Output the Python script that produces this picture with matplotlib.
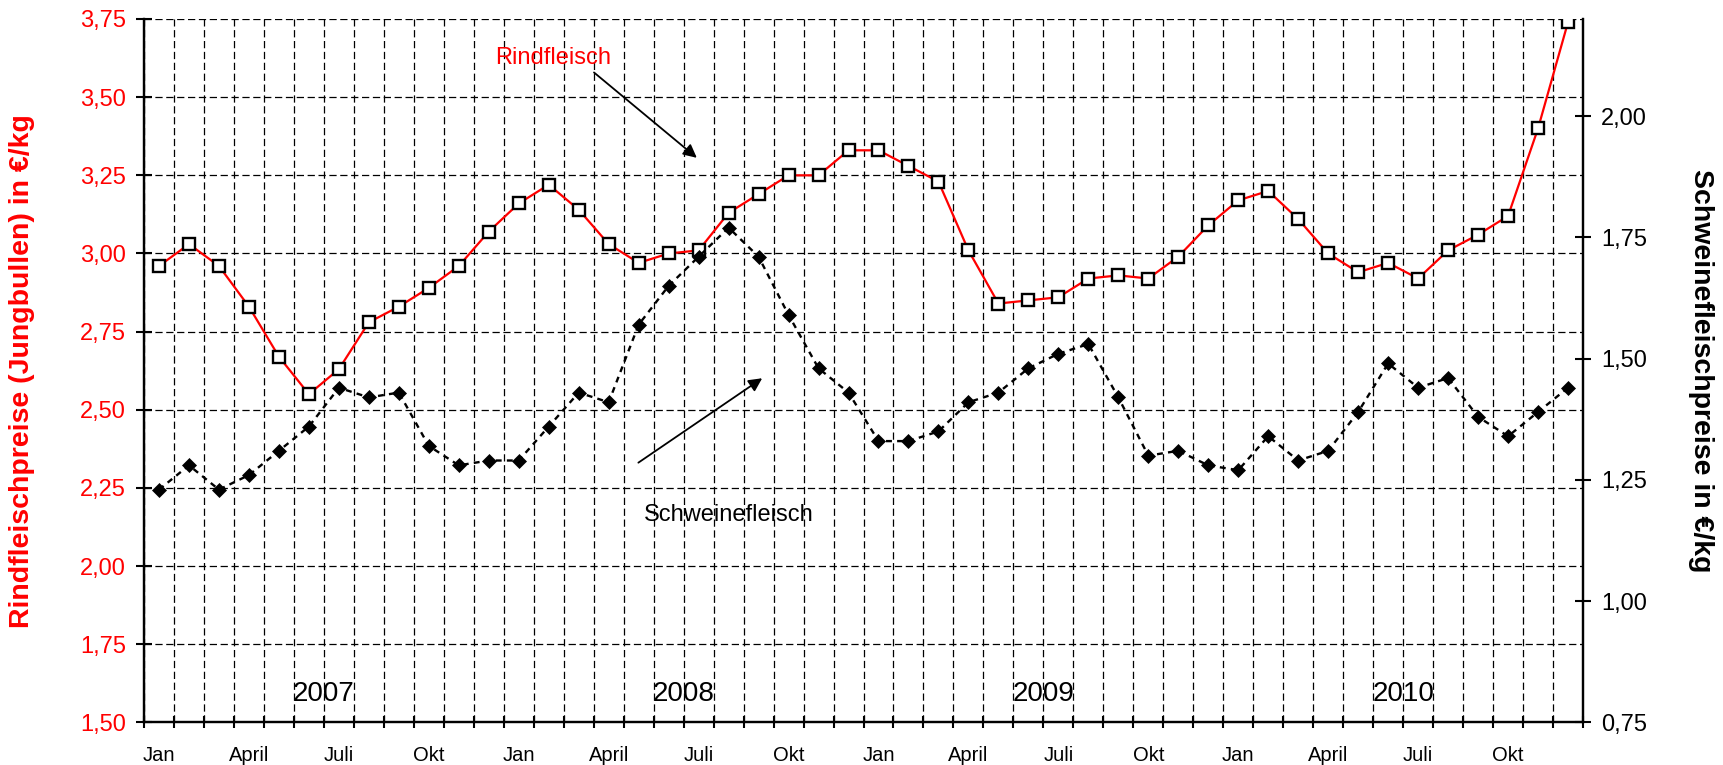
import numpy as np
import matplotlib.pyplot as plt
from matplotlib.ticker import FixedLocator, FuncFormatter

plt.rcParams['font.family'] = ['Liberation Sans', 'DejaVu Sans']

# Monatswerte Jan 2007 - Dez 2010
jahre = ['2007', '2008', '2009', '2010']
monate = ['Jan', 'April', 'Juli', 'Okt']

rind = [2.96, 3.03, 2.96, 2.83, 2.67, 2.55, 2.63, 2.78, 2.83, 2.89, 2.96, 3.07,
        3.16, 3.22, 3.14, 3.03, 2.97, 3.00, 3.01, 3.13, 3.19, 3.25, 3.25, 3.33,
        3.33, 3.28, 3.23, 3.01, 2.84, 2.85, 2.86, 2.92, 2.93, 2.92, 2.99, 3.09,
        3.17, 3.20, 3.11, 3.00, 2.94, 2.97, 2.92, 3.01, 3.06, 3.12, 3.40, 3.74]

schwein = [1.23, 1.28, 1.23, 1.26, 1.31, 1.36, 1.44, 1.42, 1.43, 1.32, 1.28, 1.29,
           1.29, 1.36, 1.43, 1.41, 1.57, 1.65, 1.71, 1.77, 1.71, 1.59, 1.48, 1.43,
           1.33, 1.33, 1.35, 1.41, 1.43, 1.48, 1.51, 1.53, 1.42, 1.30, 1.31, 1.28,
           1.27, 1.34, 1.29, 1.31, 1.39, 1.49, 1.44, 1.46, 1.38, 1.34, 1.39, 1.44]

x = np.arange(len(rind))
komma = FuncFormatter(lambda v, p: f'{v:.2f}'.replace('.', ','))

fig = plt.figure(figsize=(17.24, 7.65), dpi=100)
ax = fig.add_axes([0.08353, 0.05556, 0.83469, 0.91961])
ax2 = ax.twinx()

# grid
gls = (0, (5.8, 2.9))
ax.set_xlim(-0.5, len(x) - 0.5)
ax.set_ylim(1.5, 3.75)
ax.xaxis.set_major_locator(FixedLocator(np.arange(-0.5, len(x), 1)))
ax.xaxis.set_minor_locator(FixedLocator(np.arange(0, len(x), 3)))
ax.xaxis.set_major_formatter(FuncFormatter(lambda v, p: ''))
ax.xaxis.set_minor_formatter(FuncFormatter(lambda v, p: monate[int(round(v)) % 12 // 3]))
ax.set_yticks(np.arange(1.5, 3.76, 0.25))
ax.yaxis.set_major_formatter(komma)
ax.grid(True, which='major', color='black', linestyle=gls, linewidth=0.9)

ax.tick_params(axis='x', which='major', direction='inout', length=8.5, width=1.5)
ax.tick_params(axis='x', which='minor', length=0, pad=17, labelsize=14.5)
ax.tick_params(axis='y', direction='inout', length=11, width=1.5, pad=7.5,
               labelsize=17, labelcolor='#ff0000')

ax2.set_ylim(0.75, 2.2)
ax2.set_yticks(np.arange(0.75, 2.01, 0.25))
ax2.yaxis.set_major_formatter(komma)
ax2.tick_params(axis='y', direction='inout', length=11, width=1.5, pad=7.5, labelsize=17)

for a in (ax, ax2):
    a.spines['top'].set_visible(False)
    for s in ('left', 'right', 'bottom'):
        a.spines[s].set_linewidth(1.6)

# lines
ax.plot(x, rind, color='#ff0000', linewidth=1.6, marker='s', markersize=8,
        markerfacecolor='white', markeredgecolor='black', markeredgewidth=1.7, zorder=3)
ax2.plot(x, schwein, color='black', linewidth=1.7, linestyle=(0, (2.5, 2.2)),
         marker='D', markersize=7.3, markerfacecolor='black', markeredgecolor='black',
         markeredgewidth=0.5, zorder=3)

# year labels
for i, j in enumerate(jahre):
    ax.text(12 * i + 5.5, 1.568, j, ha='center', va='baseline', fontsize=20)

# annotations
ax.text(13.14, 3.605, 'Rindfleisch', color='#ff0000', fontsize=17, ha='center', va='baseline')
ax.annotate('', xy=(17.94, 3.306), xytext=(14.51, 3.579),
            arrowprops=dict(arrowstyle='-|>', color='black', lw=1.3, mutation_scale=20,
                            shrinkA=0, shrinkB=0))
ax.text(19.0, 2.145, 'Schweinefleisch', color='black', fontsize=17, ha='center', va='baseline')
ax.annotate('', xy=(20.12, 2.601), xytext=(15.99, 2.331),
            arrowprops=dict(arrowstyle='-|>', color='black', lw=1.3, mutation_scale=20,
                            shrinkA=0, shrinkB=0))

# axis titles
fig.text(22 / 1724, 1 - 371 / 765, 'Rindfleischpreise (Jungbullen) in €/kg', rotation=90,
         ha='center', va='center', fontsize=20.5, fontweight='bold', color='#ff0000')
fig.text(1701 / 1724, 1 - 371 / 765, 'Schweinefleischpreise in €/kg', rotation=270,
         ha='center', va='center', fontsize=20.5, fontweight='bold', color='black')

fig.savefig('out.png', dpi=100)
